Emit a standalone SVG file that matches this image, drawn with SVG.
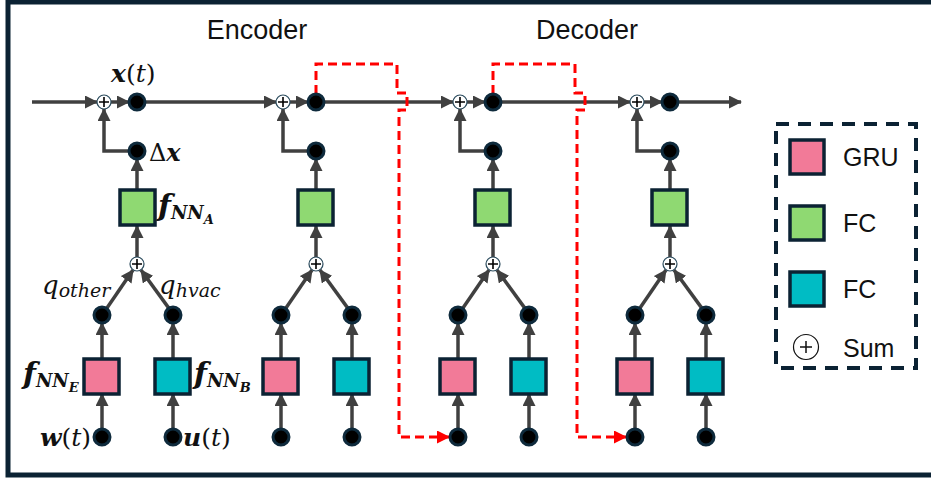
<svg xmlns="http://www.w3.org/2000/svg" width="931" height="478" viewBox="0 0 931 478">
  <defs>
    <marker id="ah" markerUnits="userSpaceOnUse" markerWidth="13" markerHeight="13" refX="12" refY="6.5" orient="auto">
      <path d="M0,0 L13,6.5 L0,13 z" fill="#404040"/>
    </marker>
    <marker id="ahr" markerUnits="userSpaceOnUse" markerWidth="13" markerHeight="13" refX="12" refY="6.5" orient="auto">
      <path d="M0,0 L13,6.5 L0,13 z" fill="#ff0000"/>
    </marker>
    <g id="dot"><circle r="8" fill="#000" stroke="#0e2a3c" stroke-width="3"/></g>
    <g id="sum">
      <circle r="7" fill="#fff" stroke="#2a4a5c" stroke-width="1.2"/>
      <path d="M-5,0 H5 M0,-5 V5" stroke="#000" stroke-width="1.6"/>
    </g>
  </defs>
  <style>
    .frame { fill: none; stroke: #0b2233; stroke-width: 5; }
    .ln { fill: none; stroke: #404040; stroke-width: 3.5; }
    .ar { marker-end: url(#ah); }
    .red { fill: none; stroke: #ff0000; stroke-width: 3; stroke-dasharray: 9 5; }
    .box { stroke: #0b2233; stroke-width: 3.5; }
    .gru { fill: #f27a98; }
    .fca { fill: #8fd972; }
    .fcb { fill: #00bcc4; }
    .ttl { font-family: "Liberation Sans", Arial, sans-serif; font-size: 27px; fill: #111; }
    .leg { font-family: "Liberation Sans", Arial, sans-serif; font-size: 25px; fill: #111; }
    .m { font-family: "DejaVu Serif", "Liberation Serif", serif; fill: #111; }
    .bi { font-weight: bold; font-style: italic; }
    .it { font-style: italic; }
  </style>

  <rect class="frame" x="8" y="2" width="940" height="473"/>

  <text class="ttl" x="257" y="39" text-anchor="middle">Encoder</text>
  <text class="ttl" x="587" y="39" text-anchor="middle">Decoder</text>

  <!-- connectors -->
  <g id="connectors">
    <!-- state line -->
    <path class="ln ar" d="M32,102 H97"/>
    <path class="ln ar" d="M111,102 H129"/>
    <path class="ln ar" d="M145,102 H276"/>
    <path class="ln ar" d="M290,102 H308"/>
    <path class="ln ar" d="M324,102 H453"/>
    <path class="ln ar" d="M467,102 H485"/>
    <path class="ln ar" d="M501,102 H630"/>
    <path class="ln ar" d="M644,102 H662"/>
    <path class="ln ar" d="M678,102 H741"/>

    <!-- column 1 -->
    <path class="ln ar" d="M129,151 H104 V109"/>
    <path class="ln ar" d="M137,190 V159"/>
    <path class="ln ar" d="M137,257 V226"/>
    <path class="ln ar" d="M106.6,308.4 L133,270"/>
    <path class="ln ar" d="M169,308.4 L141,270"/>
    <path class="ln ar" d="M102,359 V323"/>
    <path class="ln ar" d="M173,359 V323"/>
    <path class="ln ar" d="M102,430 V394"/>
    <path class="ln ar" d="M173,430 V394"/>

    <!-- column 2 -->
    <path class="ln ar" d="M308,151 H283 V109"/>
    <path class="ln ar" d="M316,190 V159"/>
    <path class="ln ar" d="M316,257 V226"/>
    <path class="ln ar" d="M285.6,308.4 L312,270"/>
    <path class="ln ar" d="M348,308.4 L320,270"/>
    <path class="ln ar" d="M281,359 V323"/>
    <path class="ln ar" d="M352,359 V323"/>
    <path class="ln ar" d="M281,430 V394"/>
    <path class="ln ar" d="M352,430 V394"/>

    <!-- column 3 -->
    <path class="ln ar" d="M485,151 H460 V109"/>
    <path class="ln ar" d="M493,190 V159"/>
    <path class="ln ar" d="M493,257 V226"/>
    <path class="ln ar" d="M462.6,308.4 L489,270"/>
    <path class="ln ar" d="M525,308.4 L497,270"/>
    <path class="ln ar" d="M458,359 V323"/>
    <path class="ln ar" d="M529,359 V323"/>
    <path class="ln ar" d="M458,430 V394"/>
    <path class="ln ar" d="M529,430 V394"/>

    <!-- column 4 -->
    <path class="ln ar" d="M662,151 H637 V109"/>
    <path class="ln ar" d="M670,190 V159"/>
    <path class="ln ar" d="M670,257 V226"/>
    <path class="ln ar" d="M639.6,308.4 L666,270"/>
    <path class="ln ar" d="M702,308.4 L674,270"/>
    <path class="ln ar" d="M635,359 V323"/>
    <path class="ln ar" d="M706,359 V323"/>
    <path class="ln ar" d="M635,430 V394"/>
    <path class="ln ar" d="M706,430 V394"/>

    <!-- state hand-over -->
    <path class="red" d="M316,94 V64 H397 V93 H407 V110 H399 V437 H449" marker-end="url(#ahr)"/>
    <path class="red" d="M493,94 V64 H575 V93 H585 V110 H577 V437 H626" marker-end="url(#ahr)"/>
  </g>

  <!-- column 1 -->
  <g id="col1">
    <use href="#sum" x="104" y="102"/>
    <use href="#dot" x="137" y="102"/>
    <use href="#dot" x="137" y="151"/>
    <rect class="box fca" x="120" y="190" width="35" height="35"/>
    <use href="#sum" x="137" y="264"/>
    <use href="#dot" x="102" y="315"/>
    <use href="#dot" x="173" y="315"/>
    <rect class="box gru" x="84" y="359" width="35" height="35"/>
    <rect class="box fcb" x="155" y="359" width="35" height="35"/>
    <use href="#dot" x="102" y="437"/>
    <use href="#dot" x="173" y="437"/>
  </g>

  <!-- column 2 -->
  <g id="col2">
    <use href="#sum" x="283" y="102"/>
    <use href="#dot" x="316" y="102"/>
    <use href="#dot" x="316" y="151"/>
    <rect class="box fca" x="298" y="190" width="35" height="35"/>
    <use href="#sum" x="316" y="264"/>
    <use href="#dot" x="281" y="315"/>
    <use href="#dot" x="352" y="315"/>
    <rect class="box gru" x="263" y="359" width="35" height="35"/>
    <rect class="box fcb" x="334" y="359" width="35" height="35"/>
    <use href="#dot" x="281" y="437"/>
    <use href="#dot" x="352" y="437"/>
  </g>

  <!-- column 3 -->
  <g id="col3">
    <use href="#sum" x="460" y="102"/>
    <use href="#dot" x="493" y="102"/>
    <use href="#dot" x="493" y="151"/>
    <rect class="box fca" x="475" y="190" width="35" height="35"/>
    <use href="#sum" x="493" y="264"/>
    <use href="#dot" x="458" y="315"/>
    <use href="#dot" x="529" y="315"/>
    <rect class="box gru" x="440" y="359" width="35" height="35"/>
    <rect class="box fcb" x="511" y="359" width="35" height="35"/>
    <use href="#dot" x="458" y="437"/>
    <use href="#dot" x="529" y="437"/>
  </g>

  <!-- column 4 -->
  <g id="col4">
    <use href="#sum" x="637" y="102"/>
    <use href="#dot" x="670" y="102"/>
    <use href="#dot" x="670" y="151"/>
    <rect class="box fca" x="652" y="190" width="35" height="35"/>
    <use href="#sum" x="670" y="264"/>
    <use href="#dot" x="635" y="315"/>
    <use href="#dot" x="706" y="315"/>
    <rect class="box gru" x="617" y="359" width="35" height="35"/>
    <rect class="box fcb" x="688" y="359" width="35" height="35"/>
    <use href="#dot" x="635" y="437"/>
    <use href="#dot" x="706" y="437"/>
  </g>

  <!-- math labels -->
  <g id="labels" class="m">
    <text x="111" y="82" font-size="25"><tspan class="bi">x</tspan>(<tspan class="it">t</tspan>)</text>
    <text x="149" y="161" font-size="24">Δ<tspan class="bi">x</tspan></text>
    <text x="158" y="216" font-size="30" class="bi">f<tspan font-size="18" dy="3">NN</tspan><tspan font-size="13" dy="5">A</tspan></text>
    <text x="42" y="294" font-size="26" class="it">q<tspan font-size="19" dy="3">other</tspan></text>
    <text x="159" y="294" font-size="26" class="it">q<tspan font-size="19" dy="3">hvac</tspan></text>
    <text x="23" y="384" font-size="30" class="bi">f<tspan font-size="18" dy="3">NN</tspan><tspan font-size="13" dy="5">E</tspan></text>
    <text x="194" y="384" font-size="30" class="bi">f<tspan font-size="18" dy="3">NN</tspan><tspan font-size="13" dy="5">B</tspan></text>
    <text x="91" y="446" font-size="25" text-anchor="end"><tspan class="bi">w</tspan>(<tspan class="it">t</tspan>)</text>
    <text x="183" y="446" font-size="25"><tspan class="bi">u</tspan>(<tspan class="it">t</tspan>)</text>
  </g>

  <!-- legend -->
  <g id="legend">
    <rect x="776" y="124" width="140" height="244" fill="none" stroke="#0b2233" stroke-width="4" stroke-dasharray="13 9"/>
    <rect class="box gru" x="790" y="140" width="34" height="34"/>
    <text class="leg" x="843" y="166">GRU</text>
    <rect class="box fca" x="790" y="206" width="34" height="34"/>
    <text class="leg" x="843" y="232">FC</text>
    <rect class="box fcb" x="790" y="272" width="34" height="34"/>
    <text class="leg" x="843" y="298">FC</text>
    <circle cx="806" cy="347" r="12.5" fill="#fff" stroke="#111" stroke-width="1.2"/>
    <path d="M800,347 H812 M806,341 V353" stroke="#111" stroke-width="1.5"/>
    <text class="leg" x="843" y="357">Sum</text>
  </g>
</svg>
